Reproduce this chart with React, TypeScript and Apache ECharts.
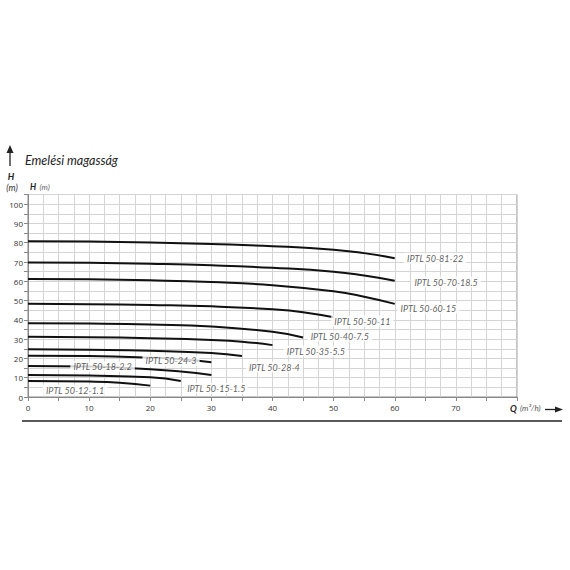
import { useEffect, useRef } from "react";
import * as echarts from "echarts";

// pump curves: Q (m3/h) -> H (m)
const curveNames = [
    "IPTL 50-81-22",
    "IPTL 50-70-18.5",
    "IPTL 50-60-15",
    "IPTL 50-50-11",
    "IPTL 50-40-7.5",
    "IPTL 50-35-5.5",
    "IPTL 50-28-4",
    "IPTL 50-24-3",
    "IPTL 50-18-2.2",
    "IPTL 50-15-1.5",
    "IPTL 50-12-1.1",
];

const curveQ = [
    [0, 10, 20, 30, 40, 50, 55, 60],
    [0, 10, 20, 30, 40, 50, 55, 60],
    [0, 10, 20, 30, 40, 50, 55, 60],
    [0, 10, 20, 30, 40, 45, 50],
    [0, 10, 20, 30, 40, 45],
    [0, 10, 20, 30, 35, 40],
    [0, 10, 20, 30, 35],
    [0, 10, 20, 25, 30],
    [0, 10, 20, 25, 30],
    [0, 10, 20, 25],
    [0, 10, 15, 20],
];

const curveH = [
    [80.8, 80.6, 80.1, 79.3, 78.2, 76.4, 74.6, 72.0],
    [69.8, 69.6, 69.1, 68.3, 67.0, 65.0, 63.0, 60.3],
    [61.2, 61.0, 60.5, 59.6, 58.0, 54.8, 52.0, 48.3],
    [48.3, 48.1, 47.7, 47.0, 45.5, 44.0, 41.3],
    [38.3, 38.1, 37.6, 36.6, 33.8, 30.9],
    [31.2, 31.0, 30.5, 29.6, 28.7, 26.9],
    [24.7, 24.5, 24.0, 22.8, 21.2],
    [21.4, 21.2, 20.4, 19.6, 18.0],
    [16.1, 15.8, 14.4, 13.2, 11.4],
    [11.4, 11.1, 10.2, 8.3],
    [8.3, 8.0, 7.4, 5.9],
];

// where each curve name sits (Q, H)
const labelQ = [66.6, 68.4, 65.5, 54.7, 51.0, 47.1, 40.3, 23.4, 12.2, 30.8, 7.7];
const labelH = [72.0, 59.6, 46.0, 39.4, 31.6, 23.8, 15.5, 18.8, 15.7, 4.5, 3.6];

const xTickLabels = ["0", "10", "20", "30", "40", "50", "60", "70"];
const yTickLabels = ["0", "10", "20", "30", "40", "50", "60", "70", "80", "90", "100"];

const labelFont = "Lato, sans-serif";

const App = () => {
    const chartRef = useRef<HTMLDivElement>(null);

    useEffect(() => {
        document.body.style.margin = "0";
        if (!chartRef.current) return;

        const chart = echarts.init(chartRef.current, null, { renderer: "svg" });

        const lineSeries = curveNames.map((name, i) => ({
            name,
            type: "line",
            data: curveQ[i].map((q, j) => [q, curveH[i][j]]),
            smooth: 0.5,
            showSymbol: false,
            symbol: "none",
            lineStyle: { color: "#111", width: 2 },
            z: 3,
        }));

        const labelSeries = {
            type: "scatter",
            symbolSize: 1,
            itemStyle: { color: "rgba(0,0,0,0)" },
            data: curveNames.map((name, i) => ({ name, value: [labelQ[i], labelH[i]] })),
            label: {
                show: true,
                position: "inside",
                formatter: (p: any) => p.name,
                color: "#333",
                fontSize: 9,
                fontStyle: "italic",
                fontFamily: labelFont,
                backgroundColor: "#fff",
                padding: [1, 3],
            },
            z: 6,
        };

        chart.setOption({
            animation: false,
            backgroundColor: "#fff",
            grid: {
                left: 28,
                right: 53,
                top: 194.5,
                bottom: 173,
                show: true,
                borderColor: "#888",
                borderWidth: 1,
            },
            xAxis: {
                type: "value",
                min: 0,
                max: 80,
                interval: 5,
                axisLine: { lineStyle: { color: "#888" } },
                axisTick: { length: 4, lineStyle: { color: "#888" } },
                axisLabel: {
                    color: "#333",
                    fontSize: 8,
                    fontFamily: "'Open Sans', sans-serif",
                    margin: 6,
                    formatter: (v: number) => {
                        const s = String(v);
                        return xTickLabels.includes(s) ? s : "";
                    },
                },
                splitLine: { lineStyle: { color: "#d4d4d4", width: 1 } },
                minorTick: { show: false, splitNumber: 2 },
                minorSplitLine: { show: true, lineStyle: { color: "#d4d4d4", width: 1 } },
            },
            yAxis: {
                type: "value",
                min: 0,
                max: 105,
                interval: 5,
                axisLine: { show: true, lineStyle: { color: "#888" } },
                axisTick: { show: true, length: 4, lineStyle: { color: "#888" } },
                axisLabel: {
                    color: "#333",
                    fontSize: 8,
                    fontFamily: "'Open Sans', sans-serif",
                    margin: 5,
                    formatter: (v: number) => {
                        const s = String(v);
                        return yTickLabels.includes(s) ? s : "";
                    },
                },
                splitLine: { lineStyle: { color: "#d4d4d4", width: 1 } },
            },
            graphic: [
                {
                    type: "line",
                    shape: { x1: 10, y1: 166, x2: 10, y2: 151 },
                    style: { stroke: "#222", lineWidth: 1.3 },
                },
                {
                    type: "polygon",
                    shape: { points: [[6.5, 153], [13.5, 153], [10, 145]] },
                    style: { fill: "#222" },
                },
                {
                    type: "text",
                    x: 25,
                    y: 160,
                    style: {
                        text: "Emelési magasság",
                        fontSize: 12.5,
                        fontStyle: "italic",
                        fontFamily: "Lato, sans-serif",
                        fill: "#222",
                        verticalAlign: "middle",
                    },
                },
                {
                    type: "text",
                    x: 11,
                    y: 176,
                    style: {
                        text: "H",
                        fontSize: 9,
                        fontWeight: "bold",
                        fontStyle: "italic",
                        fontFamily: "Lato, sans-serif",
                        fill: "#222",
                        align: "center",
                        verticalAlign: "middle",
                    },
                },
                {
                    type: "text",
                    x: 12,
                    y: 187,
                    style: {
                        text: "(m)",
                        fontSize: 9,
                        fontStyle: "italic",
                        fontFamily: "Lato, sans-serif",
                        fill: "#333",
                        align: "center",
                        verticalAlign: "middle",
                    },
                },
                {
                    type: "text",
                    x: 30,
                    y: 187,
                    style: {
                        text: "{b|H} {n|(m)}",
                        verticalAlign: "middle",
                        rich: {
                            b: { fontSize: 8.5, fontWeight: "bold", fontStyle: "italic", fill: "#222", fontFamily: "Lato, sans-serif" },
                            n: { fontSize: 8, fontStyle: "italic", fill: "#666", fontFamily: "Lato, sans-serif" },
                        },
                    },
                },
                {
                    type: "text",
                    x: 510,
                    y: 408,
                    style: {
                        text: "{b|Q} {n|(m³/h)}",
                        verticalAlign: "middle",
                        rich: {
                            b: { fontSize: 9, fontWeight: "bold", fontStyle: "italic", fill: "#222", fontFamily: "Lato, sans-serif" },
                            n: { fontSize: 8, fontStyle: "italic", fill: "#555", fontFamily: "Lato, sans-serif" },
                        },
                    },
                },
                {
                    type: "line",
                    shape: { x1: 545, y1: 409.5, x2: 557, y2: 409.5 },
                    style: { stroke: "#222", lineWidth: 1.3 },
                },
                {
                    type: "polygon",
                    shape: { points: [[555, 406.5], [555, 412.5], [563, 409.5]] },
                    style: { fill: "#222" },
                },
                {
                    type: "line",
                    shape: { x1: 22, y1: 421, x2: 562, y2: 421 },
                    style: { stroke: "#222", lineWidth: 1.6 },
                },
            ],
            series: [...lineSeries, labelSeries],
        });

        return () => {
            chart.dispose();
        };
    }, []);

    return <div ref={chartRef} style={{ width: "570px", height: "570px" }} />;
};

export default App;
